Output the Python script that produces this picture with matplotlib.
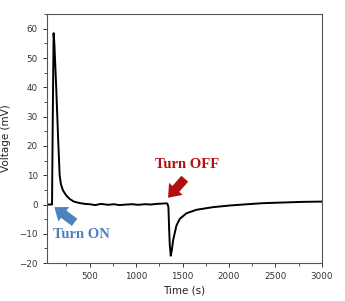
import matplotlib
matplotlib.use("Agg")
import matplotlib.pyplot as plt
from matplotlib.ticker import MultipleLocator

# Data
time_s = [40, 70, 95, 103, 112, 120, 140, 160, 177, 190, 213, 250, 285, 330, 392, 450,
          500, 560, 620, 700, 760, 820, 900, 960, 1020, 1100, 1160, 1220, 1280, 1320, 1337,
          1348, 1355, 1362, 1373, 1385, 1398, 1434, 1470, 1542, 1650, 1829, 2009, 2200,
          2368, 2600, 2800, 2997]
voltage_mv = [0.0, 0.0, 0.0, 30.0, 58.5, 55.0, 40.0, 23.0, 10.0, 7.0, 4.8, 3.0, 1.9, 1.0, 0.5, 0.2,
              0.1, -0.2, 0.2, -0.1, 0.1, -0.2, 0.0, 0.1, -0.1, 0.1, 0.0, 0.2, 0.3, 0.4, 0.3,
              -0.9, -7.8, -13.5, -17.5, -15.5, -12.3, -7.2, -4.9, -3.0, -1.8, -0.9, -0.34, 0.1,
              0.46, 0.7, 0.9, 1.0]

x_ticks = [500, 1000, 1500, 2000, 2500, 3000]
y_ticks = [-20, -10, 0, 10, 20, 30, 40, 50, 60]

fig = plt.figure(figsize=(3.45, 3.01), dpi=100)
ax = fig.add_axes([0.136, 0.126, 0.797, 0.827])
ax.plot(time_s, voltage_mv, color="black", lw=1.4)

ax.set_xlim(40, 3000)
ax.set_ylim(-20, 65)
ax.set_xticks(x_ticks)
ax.set_yticks(y_ticks)
ax.xaxis.set_minor_locator(MultipleLocator(250))
ax.yaxis.set_minor_locator(MultipleLocator(5))
ax.tick_params(which="both", direction="out", colors="#333333", labelsize=6.3,
               top=False, right=False, labelcolor="#333333")
ax.tick_params(which="major", length=3, width=0.7)
ax.tick_params(which="minor", length=2, width=0.6)
for s in ax.spines.values():
    s.set_color("#555555")
    s.set_linewidth(0.8)

ax.set_xlabel("Time (s)", fontsize=7.5, color="#222222", labelpad=3)
ax.set_ylabel("Voltage (mV)", fontsize=7.5, color="#222222", labelpad=6)

# annotations
red = "#b40f0f"
blue = "#4f81bd"
style = "simple,head_length=0.85,head_width=1.3,tail_width=0.65"
ax.annotate("", xy=(1344, 2.3), xytext=(1524, 8.8),
            arrowprops=dict(arrowstyle=style, color=red, lw=0, shrinkA=0, shrinkB=0,
                            mutation_scale=10))
ax.text(1551, 13.7, "Turn OFF", color=red, fontsize=10.5, fontweight="bold",
        family="Liberation Serif", ha="center", va="center")

ax.annotate("", xy=(120, -0.9), xytext=(338, -6.1),
            arrowprops=dict(arrowstyle=style, color=blue, lw=0, shrinkA=0, shrinkB=0,
                            mutation_scale=10))
ax.text(408, -10.3, "Turn ON", color=blue, fontsize=10.5, fontweight="bold",
        family="Liberation Serif", ha="center", va="center")

fig.savefig("out.png", dpi=100)
